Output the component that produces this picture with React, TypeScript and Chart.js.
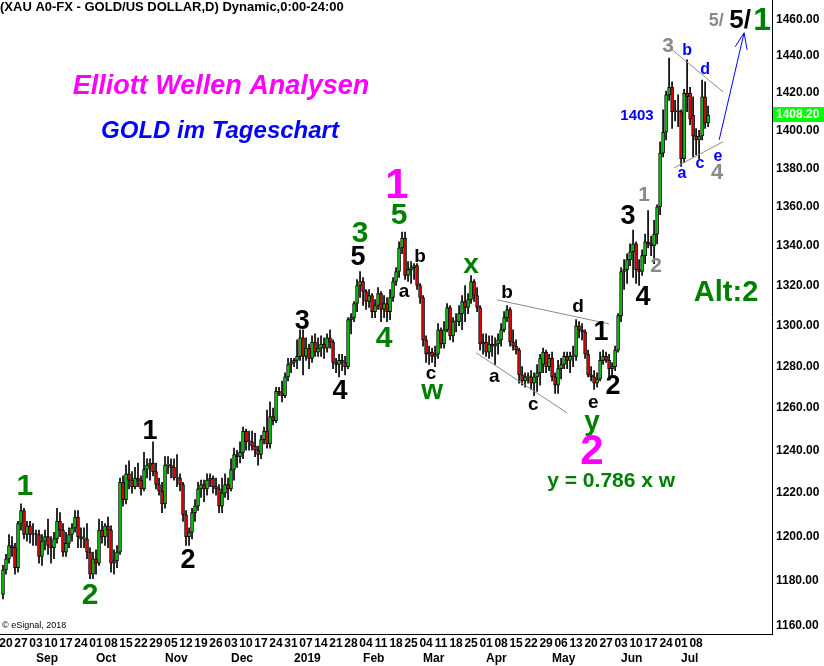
import React, { useEffect, useRef } from "react";
import { Chart, registerables } from "chart.js";

Chart.register(...registerables);

// ---------------- data ----------------
// first trading day shown; one candle per weekday after it
const firstTradingDay = "2018-08-17";

const opens = [
  1174,
  1185, 1190, 1196, 1195, 1186,
  1206, 1212, 1201, 1205, 1201,
  1201, 1201, 1191, 1198, 1200,
  1196, 1195, 1199, 1207, 1203,
  1193, 1197, 1201, 1204, 1209,
  1200, 1199, 1199, 1193, 1183,
  1190, 1188, 1203, 1200, 1205,
  1203, 1188, 1189, 1193, 1225,
  1217, 1229, 1226, 1223, 1227,
  1226, 1222, 1231, 1233, 1234,
  1230, 1224, 1221, 1215, 1233,
  1233, 1232, 1227, 1227, 1224,
  1210, 1200, 1202, 1211, 1214,
  1222, 1224, 1222, 1226, 1227,
  1223, 1222, 1214, 1220, 1224,
  1222, 1231, 1238, 1237, 1239,
  1249, 1244, 1244, 1242, 1240,
  1238, 1245, 1249, 1243, 1256,
  1254, 1268, 1267, 1266, 1275,
  1281, 1282, 1283, 1285, 1294,
  1285, 1289, 1284, 1292, 1287,
  1289, 1291, 1289, 1294, 1292,
  1282, 1281, 1283, 1282, 1280,
  1303, 1304, 1311, 1320, 1322,
  1317, 1312, 1315, 1307, 1310,
  1316, 1308, 1311, 1307, 1314,
  1322, 1327, 1339, 1344, 1325,
  1328, 1329, 1330, 1320, 1314,
  1293, 1286, 1287, 1285, 1286,
  1298, 1291, 1298, 1309, 1295,
  1302, 1302, 1306, 1312, 1309,
  1313, 1322, 1315, 1309, 1291,
  1292, 1287, 1291, 1290, 1291,
  1293, 1298, 1304, 1308, 1292,
  1290, 1288, 1276, 1273, 1275,
  1275, 1272, 1275, 1277, 1281,
  1287, 1280, 1284, 1275, 1271,
  1279, 1281, 1285, 1283, 1285,
  1285, 1300, 1298, 1297, 1286,
  1276, 1275, 1272, 1274, 1283,
  1285, 1283, 1279, 1280, 1288,
  1305, 1327, 1328, 1333, 1337,
  1341, 1328, 1327, 1335, 1342,
  1341, 1340, 1346, 1360, 1388,
  1399, 1419, 1423, 1410, 1410,
  1410, 1385, 1420, 1420, 1408,
  1397, 1395, 1397, 1418, 1404,
];

const highs = [
  1187,
  1192, 1201, 1200, 1197, 1207,
  1215, 1213, 1207, 1207, 1206,
  1203, 1203, 1201, 1203, 1208,
  1200, 1202, 1213, 1211, 1206,
  1202, 1204, 1206, 1212, 1212,
  1204, 1204, 1206, 1195, 1193,
  1194, 1208, 1207, 1206, 1209,
  1205, 1194, 1196, 1227, 1228,
  1233, 1235, 1230, 1232, 1234,
  1228, 1239, 1236, 1236, 1244,
  1234, 1227, 1225, 1237, 1237,
  1236, 1236, 1238, 1229, 1225,
  1212, 1204, 1213, 1217, 1225,
  1226, 1226, 1229, 1229, 1228,
  1227, 1224, 1227, 1229, 1227,
  1236, 1241, 1240, 1244, 1251,
  1250, 1249, 1249, 1248, 1242,
  1247, 1251, 1259, 1263, 1260,
  1270, 1270, 1273, 1277, 1284,
  1284, 1284, 1293, 1298, 1298,
  1294, 1291, 1295, 1296, 1294,
  1295, 1294, 1296, 1298, 1293,
  1284, 1286, 1286, 1285, 1304,
  1306, 1312, 1323, 1327, 1324,
  1318, 1318, 1316, 1313, 1319,
  1317, 1315, 1314, 1318, 1324,
  1329, 1342, 1347, 1347, 1332,
  1332, 1331, 1331, 1321, 1315,
  1295, 1290, 1289, 1290, 1301,
  1299, 1302, 1311, 1310, 1304,
  1306, 1310, 1315, 1320, 1316,
  1325, 1323, 1319, 1310, 1296,
  1296, 1295, 1295, 1294, 1296,
  1301, 1307, 1310, 1309, 1298,
  1293, 1289, 1280, 1277, 1277,
  1278, 1277, 1281, 1286, 1289,
  1288, 1286, 1287, 1277, 1283,
  1284, 1287, 1287, 1287, 1290,
  1303, 1302, 1301, 1298, 1288,
  1280, 1278, 1277, 1287, 1288,
  1287, 1286, 1282, 1290, 1306,
  1329, 1333, 1336, 1341, 1348,
  1342, 1333, 1338, 1346, 1358,
  1345, 1353, 1361, 1394, 1411,
  1421, 1439, 1426, 1416, 1419,
  1411, 1422, 1438, 1423, 1418,
  1401, 1400, 1427, 1426, 1413,
];

const lows = [
  1172,
  1183, 1188, 1191, 1183, 1184,
  1203, 1199, 1198, 1197, 1196,
  1196, 1188, 1187, 1194, 1192,
  1188, 1190, 1197, 1200, 1191,
  1191, 1195, 1198, 1202, 1195,
  1195, 1195, 1190, 1181, 1181,
  1183, 1187, 1197, 1196, 1195,
  1184, 1183, 1186, 1192, 1214,
  1215, 1222, 1220, 1222, 1223,
  1219, 1221, 1227, 1226, 1228,
  1222, 1219, 1211, 1213, 1229,
  1227, 1226, 1223, 1221, 1207,
  1196, 1196, 1199, 1207, 1212,
  1218, 1216, 1219, 1223, 1220,
  1219, 1211, 1211, 1218, 1217,
  1221, 1226, 1232, 1234, 1236,
  1240, 1240, 1240, 1237, 1233,
  1236, 1243, 1241, 1241, 1252,
  1253, 1266, 1263, 1265, 1273,
  1277, 1280, 1279, 1283, 1276,
  1283, 1279, 1282, 1285, 1285,
  1285, 1284, 1287, 1289, 1279,
  1277, 1275, 1278, 1276, 1279,
  1296, 1302, 1307, 1314, 1310,
  1308, 1309, 1304, 1304, 1308,
  1302, 1304, 1302, 1303, 1312,
  1320, 1324, 1336, 1323, 1322,
  1321, 1323, 1318, 1311, 1290,
  1282, 1281, 1282, 1280, 1284,
  1289, 1289, 1297, 1293, 1292,
  1297, 1300, 1298, 1302, 1306,
  1311, 1312, 1307, 1288, 1286,
  1285, 1284, 1285, 1281, 1286,
  1290, 1297, 1302, 1290, 1288,
  1286, 1272, 1271, 1270, 1272,
  1269, 1266, 1268, 1271, 1277,
  1277, 1278, 1273, 1267, 1267,
  1274, 1279, 1279, 1277, 1280,
  1283, 1294, 1293, 1284, 1275,
  1273, 1269, 1270, 1273, 1281,
  1282, 1275, 1276, 1278, 1287,
  1302, 1318, 1321, 1330, 1324,
  1321, 1320, 1325, 1331, 1339,
  1335, 1331, 1341, 1356, 1386,
  1395, 1416, 1401, 1405, 1402,
  1381, 1383, 1410, 1403, 1386,
  1387, 1385, 1395, 1401, 1402,
];

const closes = [
  1185,
  1190, 1196, 1195, 1186, 1206,
  1212, 1201, 1205, 1201, 1201,
  1201, 1191, 1198, 1200, 1196,
  1195, 1199, 1207, 1203, 1193,
  1197, 1201, 1204, 1209, 1200,
  1199, 1199, 1193, 1183, 1190,
  1188, 1203, 1200, 1205, 1203,
  1188, 1189, 1193, 1225, 1217,
  1229, 1226, 1223, 1227, 1226,
  1222, 1231, 1233, 1234, 1230,
  1224, 1221, 1215, 1233, 1233,
  1232, 1227, 1227, 1224, 1210,
  1200, 1202, 1211, 1214, 1222,
  1224, 1222, 1226, 1227, 1223,
  1222, 1214, 1220, 1224, 1222,
  1231, 1238, 1237, 1239, 1249,
  1244, 1244, 1242, 1240, 1238,
  1245, 1249, 1243, 1256, 1254,
  1268, 1267, 1266, 1275, 1281,
  1282, 1283, 1285, 1294, 1285,
  1289, 1284, 1292, 1287, 1289,
  1291, 1289, 1294, 1292, 1282,
  1281, 1283, 1282, 1280, 1303,
  1304, 1311, 1320, 1322, 1317,
  1312, 1315, 1307, 1310, 1316,
  1308, 1311, 1307, 1314, 1322,
  1327, 1339, 1344, 1325, 1328,
  1329, 1330, 1320, 1314, 1293,
  1286, 1287, 1285, 1286, 1298,
  1291, 1298, 1309, 1295, 1302,
  1302, 1306, 1312, 1309, 1313,
  1322, 1315, 1309, 1291, 1292,
  1287, 1291, 1290, 1291, 1293,
  1298, 1304, 1308, 1292, 1290,
  1288, 1276, 1273, 1275, 1275,
  1272, 1275, 1277, 1284, 1287,
  1280, 1284, 1275, 1271, 1279,
  1281, 1285, 1283, 1285, 1285,
  1300, 1298, 1297, 1286, 1276,
  1275, 1272, 1274, 1283, 1285,
  1283, 1279, 1280, 1288, 1305,
  1327, 1328, 1333, 1337, 1341,
  1328, 1327, 1335, 1342, 1341,
  1340, 1346, 1360, 1388, 1399,
  1419, 1423, 1410, 1410, 1410,
  1385, 1420, 1418, 1406, 1397,
  1395, 1397, 1418, 1404, 1408.2,
];

// x-axis tick labels: day of month for every Monday, then month names
const dayTickLabels = [
  "20", "27",
  "03", "10", "17", "24",
  "01", "08", "15", "22", "29",
  "05", "12", "19", "26",
  "03", "10", "17", "24", "31",
  "07", "14", "21", "28",
  "04", "11", "18", "25",
  "04", "11", "18", "25",
  "01", "08", "15", "22", "29",
  "06", "13", "20", "27",
  "03", "10", "17", "24",
  "01", "08",
];
const monthTickLabels = ["Sep", "Oct", "Nov", "Dec", "2019", "Feb", "Mar", "Apr", "May", "Jun", "Jul"];

// price axis ticks
const priceTicks = [1160, 1180, 1200, 1220, 1240, 1260, 1280, 1300, 1320, 1340, 1360, 1380, 1400, 1420, 1440, 1460];
const lastPrice = 1408.2;

// ---------------- annotations (anchored at candle index / price) ----------------
const GREEN_TXT = "#008000";
const BLACK = "#000000";
const MAGENTA = "#ff00ff";
const BLUE = "#0000ff";
const GRAY = "#8a8a8a";

type Lbl = { text: string; at: number; price: number; color: string; size: number };
const waveLabels: Lbl[] = [
  { text: "1", at: 7.3, price: 1222.9, color: GREEN_TXT, size: 30 },
  { text: "2", at: 29, price: 1173.3, color: GREEN_TXT, size: 30 },
  { text: "1", at: 49, price: 1248.7, color: BLACK, size: 27 },
  { text: "2", at: 61.7, price: 1189.4, color: BLACK, size: 27 },
  { text: "3", at: 99.7, price: 1301.9, color: BLACK, size: 27 },
  { text: "4", at: 112.3, price: 1267.7, color: BLACK, size: 27 },
  { text: "5", at: 118.3, price: 1333.9, color: BLACK, size: 27 },
  { text: "3", at: 119, price: 1346.1, color: GREEN_TXT, size: 30 },
  { text: "4", at: 127, price: 1293.5, color: GREEN_TXT, size: 30 },
  { text: "1", at: 131.3, price: 1370.8, color: MAGENTA, size: 42 },
  { text: "5", at: 132, price: 1355.3, color: GREEN_TXT, size: 30 },
  { text: "a", at: 133.7, price: 1316.8, color: BLACK, size: 19 },
  { text: "b", at: 139, price: 1334.4, color: BLACK, size: 19 },
  { text: "c", at: 142.7, price: 1276.5, color: BLACK, size: 19 },
  { text: "w", at: 143, price: 1268.0, color: GREEN_TXT, size: 28 },
  { text: "x", at: 156, price: 1329.9, color: GREEN_TXT, size: 28 },
  { text: "b", at: 168, price: 1316.3, color: BLACK, size: 19 },
  { text: "a", at: 163.7, price: 1275.0, color: BLACK, size: 19 },
  { text: "c", at: 176.7, price: 1261.5, color: BLACK, size: 19 },
  { text: "d", at: 191.7, price: 1309.3, color: BLACK, size: 19 },
  { text: "1", at: 199.3, price: 1296.5, color: BLACK, size: 27 },
  { text: "e", at: 196.7, price: 1262.4, color: BLACK, size: 19 },
  { text: "y", at: 196.3, price: 1253.0, color: GREEN_TXT, size: 28 },
  { text: "2", at: 203.3, price: 1270.2, color: BLACK, size: 27 },
  { text: "2", at: 196.3, price: 1238.8, color: MAGENTA, size: 42 },
  { text: "y = 0.786 x w", at: 202.7, price: 1225.7, color: GREEN_TXT, size: 21 },
  { text: "3", at: 208.3, price: 1354.8, color: BLACK, size: 27 },
  { text: "1", at: 213.7, price: 1366.2, color: GRAY, size: 21 },
  { text: "2", at: 217.7, price: 1329.9, color: GRAY, size: 21 },
  { text: "4", at: 213.3, price: 1313.9, color: BLACK, size: 27 },
  { text: "Alt:2", at: 241, price: 1316.3, color: GREEN_TXT, size: 29 },
  { text: "3", at: 221.7, price: 1445.7, color: GRAY, size: 21 },
  { text: "b", at: 228, price: 1442.9, color: BLUE, size: 16 },
  { text: "d", at: 234, price: 1432.5, color: BLUE, size: 16 },
  { text: "1403", at: 211.3, price: 1407.7, color: BLUE, size: 15 },
  { text: "a", at: 226.3, price: 1377.1, color: BLUE, size: 16 },
  { text: "c", at: 232.3, price: 1382.3, color: BLUE, size: 16 },
  { text: "e", at: 238.3, price: 1386.0, color: BLUE, size: 16 },
  { text: "4", at: 238, price: 1377.6, color: GRAY, size: 22 },
  { text: "5/", at: 237.7, price: 1459.4, color: GRAY, size: 18 },
  { text: "5/", at: 245.7, price: 1459.4, color: BLACK, size: 26 },
  { text: "1", at: 253, price: 1459.4, color: GREEN_TXT, size: 32 },
];

type Seg = { from: [number, number]; to: [number, number]; color: string };
const trendLines: Seg[] = [
  { from: [164.7, 1312.8], to: [202, 1300.9], color: GRAY },
  { from: [157.7, 1286.7], to: [188, 1257.7], color: GRAY },
  { from: [223, 1443.5], to: [240, 1420.6], color: GRAY },
  { from: [223.7, 1380.3], to: [240, 1394.0], color: GRAY },
  { from: [238.7, 1395.0], to: [247, 1452.8], color: BLUE },
  { from: [247, 1452.8], to: [244, 1445.1], color: BLUE },
  { from: [247, 1452.8], to: [248, 1443.5], color: BLUE },
];

const FONT = "Arial, 'Liberation Sans', sans-serif";

function buildTradingDates(start: string, n: number): Date[] {
  const out: Date[] = [];
  const [y, m, d] = start.split("-").map(Number);
  let t = Date.UTC(y, m - 1, d);
  while (out.length < n) {
    const dt = new Date(t);
    const wd = dt.getUTCDay();
    if (wd !== 0 && wd !== 6) out.push(dt);
    t += 86400000;
  }
  return out;
}

export default function App() {
  const ref = useRef<HTMLCanvasElement>(null);

  useEffect(() => {
    const canvas = ref.current;
    if (!canvas) return;
    const n = opens.length;
    const dates = buildTradingDates(firstTradingDay, n);
    const mondayIdx: number[] = [];
    const monthStartIdx: number[] = [];
    dates.forEach((d, i) => {
      if (d.getUTCDay() === 1) mondayIdx.push(i);
      if (i > 0 && d.getUTCMonth() !== dates[i - 1].getUTCMonth()) monthStartIdx.push(i);
    });
    const dayLabelAt = new Map<number, string>(mondayIdx.map((v, k) => [v, dayTickLabels[k] ?? ""]));
    const monthLabelAt = new Map<number, string>(monthStartIdx.map((v, k) => [v, monthTickLabels[k] ?? ""]));

    const bodies = dates.map((_, i) => ({ x: i, y: [opens[i], closes[i]] }));
    const wicks = dates.map((_, i) => ({ x: i, y: [lows[i], highs[i]] }));
    const bodyColors = dates.map((_, i) => (closes[i] >= opens[i] ? "#00dd00" : "#ff0000"));

    const X_MIN = -1;
    const X_MAX = 256.3;

    const overlay = {
      id: "ewOverlay",
      afterDraw(chart: any) {
        const { ctx } = chart;
        const xs = chart.scales.x;
        const ys = chart.scales.y;
        ctx.save();
        // lines
        ctx.lineWidth = 1;
        for (const s of trendLines) {
          ctx.strokeStyle = s.color;
          ctx.beginPath();
          ctx.moveTo(xs.getPixelForValue(s.from[0]), ys.getPixelForValue(s.from[1]));
          ctx.lineTo(xs.getPixelForValue(s.to[0]), ys.getPixelForValue(s.to[1]));
          ctx.stroke();
        }
        // wave labels
        ctx.textAlign = "center";
        ctx.textBaseline = "middle";
        for (const l of waveLabels) {
          ctx.font = `bold ${l.size}px ${FONT}`;
          ctx.fillStyle = l.color;
          ctx.fillText(l.text, xs.getPixelForValue(l.at), ys.getPixelForValue(l.price));
        }
        // titles
        ctx.font = `italic bold 27px ${FONT}`;
        ctx.fillStyle = MAGENTA;
        ctx.fillText("Elliott Wellen Analysen", 221, 87);
        ctx.font = `italic bold 24px ${FONT}`;
        ctx.fillStyle = BLUE;
        ctx.fillText("GOLD im Tageschart", 220, 131);
        // header
        ctx.textAlign = "left";
        ctx.font = `bold 13px ${FONT}`;
        ctx.fillStyle = BLACK;
        ctx.fillText("(XAU A0-FX - GOLD/US DOLLAR,D) Dynamic,0:00-24:00", 0, 7);
        ctx.font = `9px ${FONT}`;
        ctx.fillText("\u00A9 eSignal, 2018", 2, 626);
        // last price box
        const py = ys.getPixelForValue(lastPrice);
        const left = chart.chartArea.right + 1;
        ctx.fillStyle = "#00ff00";
        ctx.fillRect(left, py - 8, 824 - left, 15);
        ctx.fillStyle = "#ffffff";
        ctx.font = `bold 12px ${FONT}`;
        ctx.fillText(lastPrice.toFixed(2), left + 3, py);
        ctx.restore();
      },
    };

    const chart = new Chart(canvas, {
      type: "bar",
      data: {
        datasets: [
          {
            label: "body",
            data: bodies as any,
            backgroundColor: bodyColors,
            borderColor: "#000000",
            borderWidth: 1,
            borderSkipped: false,
            barThickness: 3,
            minBarLength: 1,
            grouped: false,
          } as any,
          {
            label: "wick",
            data: wicks as any,
            backgroundColor: "#000000",
            borderWidth: 0,
            barThickness: 1,
            grouped: false,
          } as any,
        ],
      },
      options: {
        responsive: false,
        animation: false,
        devicePixelRatio: 1,
        layout: { padding: 0 },
        plugins: { legend: { display: false }, tooltip: { enabled: false }, title: { display: false } },
        scales: {
          x: {
            type: "linear",
            position: "bottom",
            weight: 1,
            min: X_MIN,
            max: X_MAX,
            offset: false,
            grid: { display: false, drawTicks: false, offset: false },
            border: { display: true, color: "#000000", width: 1 },
            ticks: {
              autoSkip: false,
              maxRotation: 0,
              minRotation: 0,
              padding: 2,
              color: "#000000",
              font: { family: FONT, size: 12, weight: "bold" },
              callback: (v: any) => dayLabelAt.get(Number(v)) ?? "",
            },
            afterBuildTicks: (s: any) => {
              s.ticks = mondayIdx.map((v) => ({ value: v }));
            },
            afterFit: (s: any) => {
              s.height = 16;
              s.paddingLeft = 0;
              s.paddingRight = 0;
            },
          },
          x2: {
            type: "linear",
            position: "bottom",
            weight: 2,
            min: X_MIN,
            max: X_MAX,
            offset: false,
            grid: { display: false, drawTicks: false },
            border: { display: false },
            ticks: {
              autoSkip: false,
              maxRotation: 0,
              minRotation: 0,
              align: "start",
              padding: 1,
              color: "#000000",
              font: { family: FONT, size: 12, weight: "bold" },
              callback: (v: any) => monthLabelAt.get(Number(v)) ?? "",
            },
            afterBuildTicks: (s: any) => {
              s.ticks = monthStartIdx.map((v) => ({ value: v }));
            },
            afterFit: (s: any) => {
              s.height = 16;
              s.paddingLeft = 0;
              s.paddingRight = 0;
            },
          },
          y: {
            type: "logarithmic",
            position: "right",
            min: 1156.5,
            max: 1471,
            grid: { display: false, drawTicks: false },
            border: { display: true, color: "#000000", width: 1 },
            ticks: {
              autoSkip: false,
              padding: 4,
              color: "#000000",
              font: { family: FONT, size: 12, weight: "bold" },
              callback: (v: any) => Number(v).toFixed(2),
            },
            afterBuildTicks: (s: any) => {
              s.ticks = priceTicks.map((v) => ({ value: v }));
            },
            afterFit: (s: any) => {
              s.width = 52;
              s.paddingTop = 0;
              s.paddingBottom = 0;
            },
          },
        },
      } as any,
      plugins: [overlay],
    });

    return () => chart.destroy();
  }, []);

  return (
    <div style={{ position: "absolute", left: 0, top: 0, width: 824, height: 666, background: "#ffffff" }}>
      <canvas ref={ref} width={824} height={666} style={{ display: "block" }} />
    </div>
  );
}
